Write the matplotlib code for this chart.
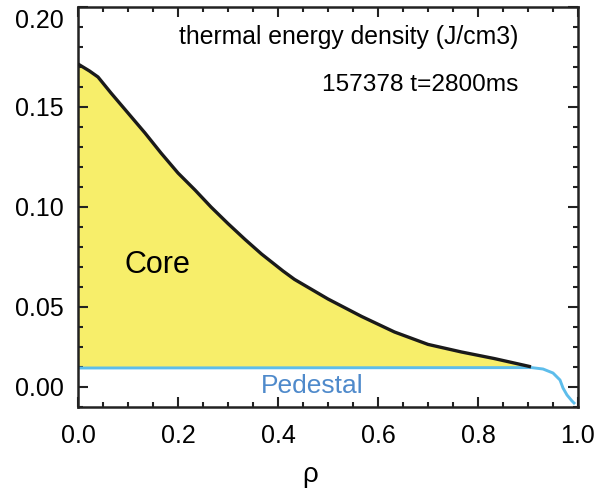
import matplotlib
matplotlib.use("Agg")
import matplotlib.pyplot as plt
from matplotlib.ticker import FixedLocator, MultipleLocator
from matplotlib.transforms import ScaledTranslation

plt.rcParams['font.family'] = ['Liberation Sans', 'DejaVu Sans']

# Core (total thermal energy density) profile
rho_core = [0.0, 0.023, 0.04, 0.066, 0.10, 0.134, 0.166, 0.20, 0.234, 0.266,
            0.30, 0.334, 0.367, 0.41, 0.433, 0.50, 0.567, 0.633, 0.70,
            0.767, 0.833, 0.906]
w_core = [0.1715, 0.168, 0.165, 0.157, 0.147, 0.137, 0.127, 0.117, 0.1085, 0.100,
          0.0917, 0.0838, 0.0765, 0.0680, 0.0638, 0.0540, 0.0453, 0.0375, 0.0313,
          0.0275, 0.0242, 0.0201]

# Pedestal level profile
rho_ped = [0.0, 0.907, 0.93, 0.95, 0.964, 0.97, 0.978, 0.988, 0.992]
w_ped = [0.0195, 0.0197, 0.019, 0.017, 0.0135, 0.0095, 0.006, 0.003, 0.002]
ped_level = 0.0195

ytick_pos = [0.01, 0.05, 0.10, 0.15, 0.20]
ytick_lab = ["0.00", "0.05", "0.10", "0.15", "0.20"]
xtick_pos = [0.0, 0.2, 0.4, 0.6, 0.8, 1.0]
xtick_lab = ["0.0", "0.2", "0.4", "0.6", "0.8", "1.0"]

fig = plt.figure(figsize=(5.97, 4.95), dpi=100)
ax = fig.add_axes([78/597, 1-407/495, 500/597, 400/495])

ax.fill_between(rho_core, w_core, ped_level, color='#F7EE6A', linewidth=0, zorder=1)
ax.plot(rho_ped, w_ped, color='#5DBDEB', lw=2.1, zorder=2)
ax.plot(rho_core, w_core, color='#1a1a1a', lw=2.4, zorder=3,
        solid_capstyle='butt', solid_joinstyle='round')

ax.set_xlim(0, 1.0)
ax.set_ylim(0, 0.20)

ax.xaxis.set_major_locator(FixedLocator(xtick_pos))
ax.set_xticklabels(xtick_lab)
ax.xaxis.set_minor_locator(MultipleLocator(0.05))
ax.yaxis.set_major_locator(FixedLocator(ytick_pos))
ax.set_yticklabels(ytick_lab)
ax.yaxis.set_minor_locator(MultipleLocator(0.01))

ax.tick_params(which='both', direction='in', top=True, right=True,
               color='#222222', width=1.5)
ax.tick_params(which='major', length=7, labelsize=18)
ax.tick_params(axis='x', which='major', pad=12)
ax.tick_params(axis='y', which='major', pad=10)
ax.tick_params(which='minor', length=3.5)

for s in ax.spines.values():
    s.set_linewidth(1.8)
    s.set_color('#222222')

# shift the top y label down slightly as in the reference
lbl = ax.get_yticklabels()[-1]
lbl.set_transform(lbl.get_transform() + ScaledTranslation(0, -0.11, fig.dpi_scale_trans))

ax.text(0.542, 0.924, "thermal energy density (J/cm3)", transform=ax.transAxes,
        ha='center', va='center', fontsize=17.8)
ax.text(0.684, 0.805, "157378 t=2800ms", transform=ax.transAxes,
        ha='center', va='center', fontsize=17.6)
ax.text(0.158, 0.355, "Core", transform=ax.transAxes,
        ha='center', va='center', fontsize=22)
ax.text(0.468, 0.052, "Pedestal", transform=ax.transAxes,
        ha='center', va='center', fontsize=19, color='#4F8ACB')

fig.text(310/597, 1-475/495, "ρ", ha='center', va='center', fontsize=20)

fig.savefig("out.png", dpi=100)
